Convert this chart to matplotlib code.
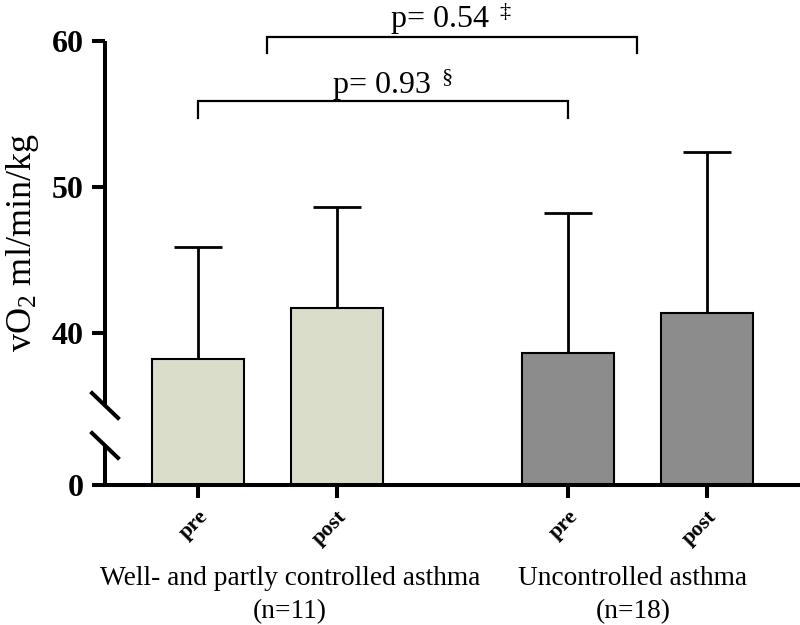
import numpy as np
import matplotlib
matplotlib.use('Agg')
import matplotlib.pyplot as plt
from matplotlib.lines import Line2D

# ---------------- data ----------------
conditions = ['pre', 'post', 'pre', 'post']
groups = ['Well- and partly controlled asthma', 'Uncontrolled asthma']
group_n = ['(n=11)', '(n=18)']
means = [38.2, 41.7, 38.6, 41.4]
sd_upper = [7.7, 6.9, 9.6, 11.0]
bar_colors = ['#DBDDCB', '#DBDDCB', '#8C8C8C', '#8C8C8C']
y_ticks = [0, 40, 50, 60]
y_tick_labels = ['0', '40', '50', '60']
p_texts = ['p= 0.93 ', 'p= 0.54 ']
p_marks = ['§', '‡']

# ---------------- style ----------------
plt.rcParams['font.family'] = ['Liberation Serif', 'DejaVu Serif']
plt.rcParams['mathtext.fontset'] = 'custom'
plt.rcParams['mathtext.rm'] = 'Liberation Serif'
plt.rcParams['mathtext.it'] = 'Liberation Serif:italic'
plt.rcParams['mathtext.bf'] = 'Liberation Serif:bold'
plt.rcParams['mathtext.default'] = 'regular'

x = np.array([0.0, 1.0, 2.66, 3.66])

# broken (compressed) lower part of the y axis: linear above BREAK
BREAK = 35.0
LOW_SCALE = 0.1546


def fwd(v):
    v = np.asarray(v, dtype=float)
    return np.where(v >= BREAK, v, BREAK - (BREAK - v) * LOW_SCALE)


def inv(t):
    t = np.asarray(t, dtype=float)
    return np.where(t >= BREAK, t, BREAK - (BREAK - t) / LOW_SCALE)


fig = plt.figure(figsize=(8, 6.25), dpi=100)
ax = fig.add_axes([105 / 800, 1 - 485 / 625, 695 / 800, 444 / 625])
ax.set_yscale('function', functions=(fwd, inv))

ax.bar(x, means, width=0.66, color=bar_colors, edgecolor='black',
       linewidth=1.5, zorder=2)
ax.errorbar(x, means, yerr=[np.zeros(len(means)), sd_upper], fmt='none',
            ecolor='black', elinewidth=2, capsize=17, capthick=2, zorder=1)

ax.set_xlim(-0.669, 4.331)
ax.set_ylim(0, 60)

# spines
for s in ['top', 'right', 'left']:
    ax.spines[s].set_visible(False)
ax.spines['bottom'].set_linewidth(2.9)

AX_LW = 2.9
ax.add_line(Line2D([0, 0], [0.180, 1.0], transform=ax.transAxes, color='black',
                   lw=AX_LW, clip_on=False, solid_capstyle='butt'))
ax.add_line(Line2D([0, 0], [0.0, 0.090], transform=ax.transAxes, color='black',
                   lw=AX_LW, clip_on=False, solid_capstyle='butt'))
# break marks
ax.add_line(Line2D([-0.0187, 0.0187], [0.207, 0.151], transform=ax.transAxes,
                   color='black', lw=AX_LW, clip_on=False))
ax.add_line(Line2D([-0.0187, 0.0187], [0.117, 0.061], transform=ax.transAxes,
                   color='black', lw=AX_LW, clip_on=False))

# ticks
ax.set_yticks(y_ticks)
ax.set_yticklabels(y_tick_labels, fontweight='bold', fontsize=23)
ax.tick_params(axis='y', length=9.4, width=2.9, pad=6)
ax.yaxis.set_minor_locator(matplotlib.ticker.NullLocator())

ax.set_xticks(x)
ax.set_xticklabels(conditions, rotation=45, ha='right', va='top',
                   rotation_mode='anchor', fontweight='bold', fontsize=16)
ax.tick_params(axis='x', length=9.4, width=2.9, pad=6)

ax.set_ylabel('vO$_2$ ml/min/kg', fontsize=26)
ax.yaxis.set_label_coords(-0.092, 0.545)

# group labels
group_x = [0.662, 3.129]
for gx, g, n in zip(group_x, groups, group_n):
    ax.text(gx, -0.2252, g, transform=ax.get_xaxis_transform(), ha='center',
            va='baseline', fontsize=19.7, clip_on=False)
    ax.text(gx, -0.2995, n, transform=ax.get_xaxis_transform(), ha='center',
            va='baseline', fontsize=19.7, clip_on=False)

# significance brackets
brackets = [
    (x[0], x[2], 55.9, 54.7),
    ((x[0] + x[1]) / 2, (x[2] + x[3]) / 2, 60.27, 59.18),
]
text_pos = [(0.964, 56.35), (1.381, 60.87)]
for (x1, x2, yt, yb), (tx, ty), pt, pm in zip(brackets, text_pos, p_texts, p_marks):
    ax.plot([x1, x1, x2, x2], [yb, yt, yt, yb], color='black', lw=1.6,
            clip_on=False, solid_joinstyle='miter')
    ax.text(tx, ty, pt + r'$^{\,' + pm + '}$', ha='left', va='baseline',
            fontsize=23, clip_on=False)

fig.savefig('out.png', dpi=100, facecolor='white')
